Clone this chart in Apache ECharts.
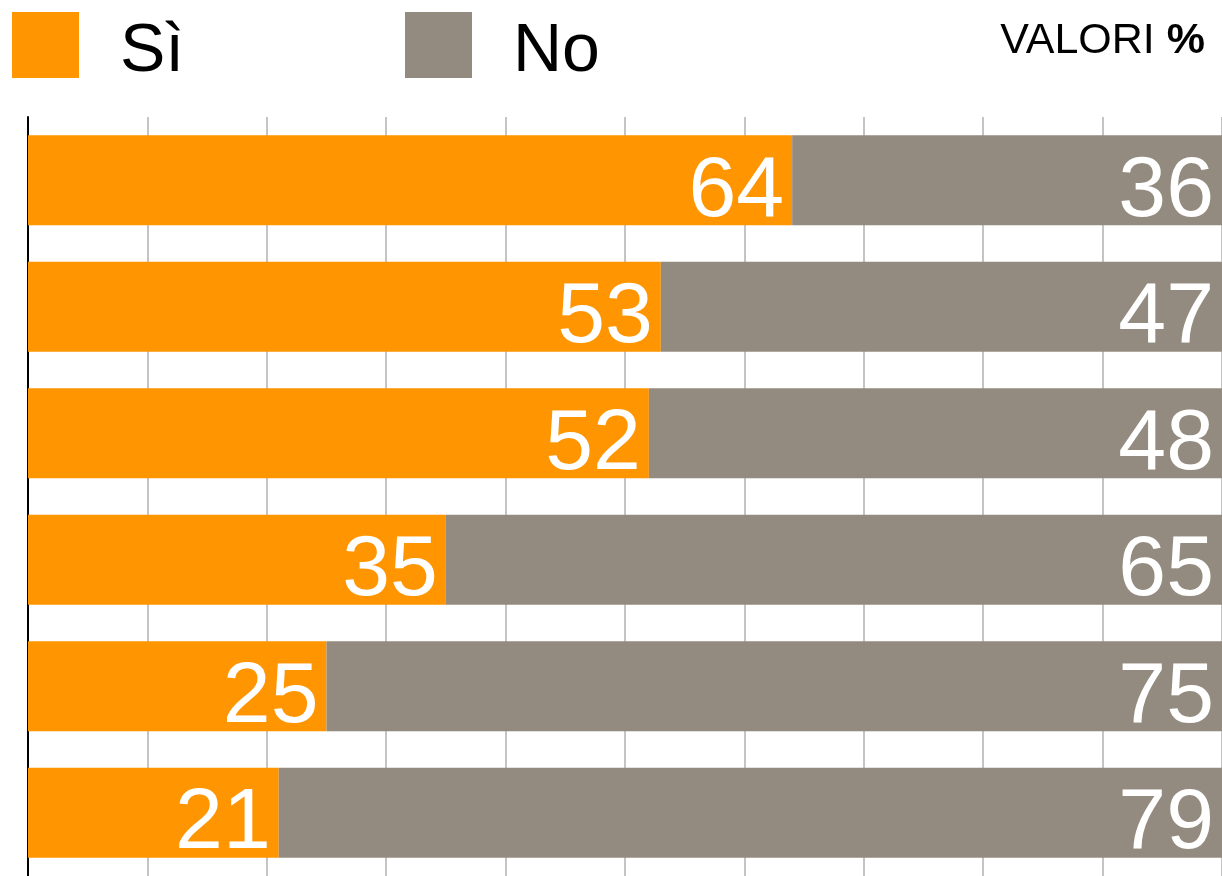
<!DOCTYPE html>
<html>
<head>
<meta charset="utf-8">
<script src="https://cdn.jsdelivr.net/npm/echarts@6/dist/echarts.min.js"></script>
<style>
  html, body { margin: 0; padding: 0; background: #fff; }
  #chart { width: 1222px; height: 876px; }
</style>
</head>
<body>
<div id="chart"></div>
<script>
// dati
var categories = ['r1', 'r2', 'r3', 'r4', 'r5', 'r6'];
var siValues = [64, 53, 52, 35, 25, 21];
var noValues = [36, 47, 48, 65, 75, 79];
var seriesNames = ['Sì', 'No'];
var unitLabel = 'VALORI';

var ORANGE = '#ff9500';
var GREY = '#938b7f';
var FONT = '"Liberation Sans", Arial, sans-serif';

var chart = echarts.init(document.getElementById('chart'));

var barLabel = {
  show: true,
  position: 'insideRight',
  distance: 8,
  color: '#fff',
  fontFamily: FONT,
  fontSize: 86,
  offset: [0, 12]
};

// testo legenda spostato un po' in basso
var legendText = {
  color: '#000',
  padding: [0, 0, 0, 36],
  rich: { t: { fontSize: 68, fontFamily: FONT, color: '#000', padding: [14, 0, 0, 0] } }
};

chart.setOption({
  animation: false,
  textStyle: { fontFamily: FONT },
  legend: [
    {
      data: [seriesNames[0]],
      left: 12, top: 12, padding: 0,
      itemWidth: 67, itemHeight: 66,
      icon: 'rect',
      formatter: '{t|{name}}',
      textStyle: legendText
    },
    {
      data: [seriesNames[1]],
      left: 405, top: 12, padding: 0,
      itemWidth: 67, itemHeight: 66,
      icon: 'rect',
      formatter: '{t|{name}}',
      textStyle: legendText
    }
  ],
  graphic: [{
    type: 'text',
    right: 17, top: 20,
    style: {
      text: '{a|' + unitLabel + ' }{b|%}',
      rich: {
        a: { fontSize: 43, fontFamily: FONT, fill: '#000' },
        b: { fontSize: 43, fontFamily: FONT, fontWeight: 'bold', fill: '#000' }
      }
    }
  }],
  grid: { left: 28, right: 0, top: 117, bottom: 0 },
  xAxis: {
    type: 'value',
    min: 0, max: 100, interval: 10,
    axisLine: { show: false },
    axisTick: { show: false },
    axisLabel: { show: false },
    splitLine: { lineStyle: { color: '#c4c4c4', width: 2 } }
  },
  yAxis: {
    type: 'category',
    data: categories,
    inverse: true,
    axisLine: { show: true, lineStyle: { color: '#000', width: 2 } },
    axisTick: { show: false },
    axisLabel: { show: false }
  },
  series: [
    {
      name: seriesNames[0], type: 'bar', stack: 'tot',
      data: siValues, barWidth: 90,
      itemStyle: { color: ORANGE },
      label: barLabel
    },
    {
      name: seriesNames[1], type: 'bar', stack: 'tot',
      data: noValues, barWidth: 90,
      itemStyle: { color: GREY },
      label: barLabel
    }
  ]
});
</script>
</body>
</html>
